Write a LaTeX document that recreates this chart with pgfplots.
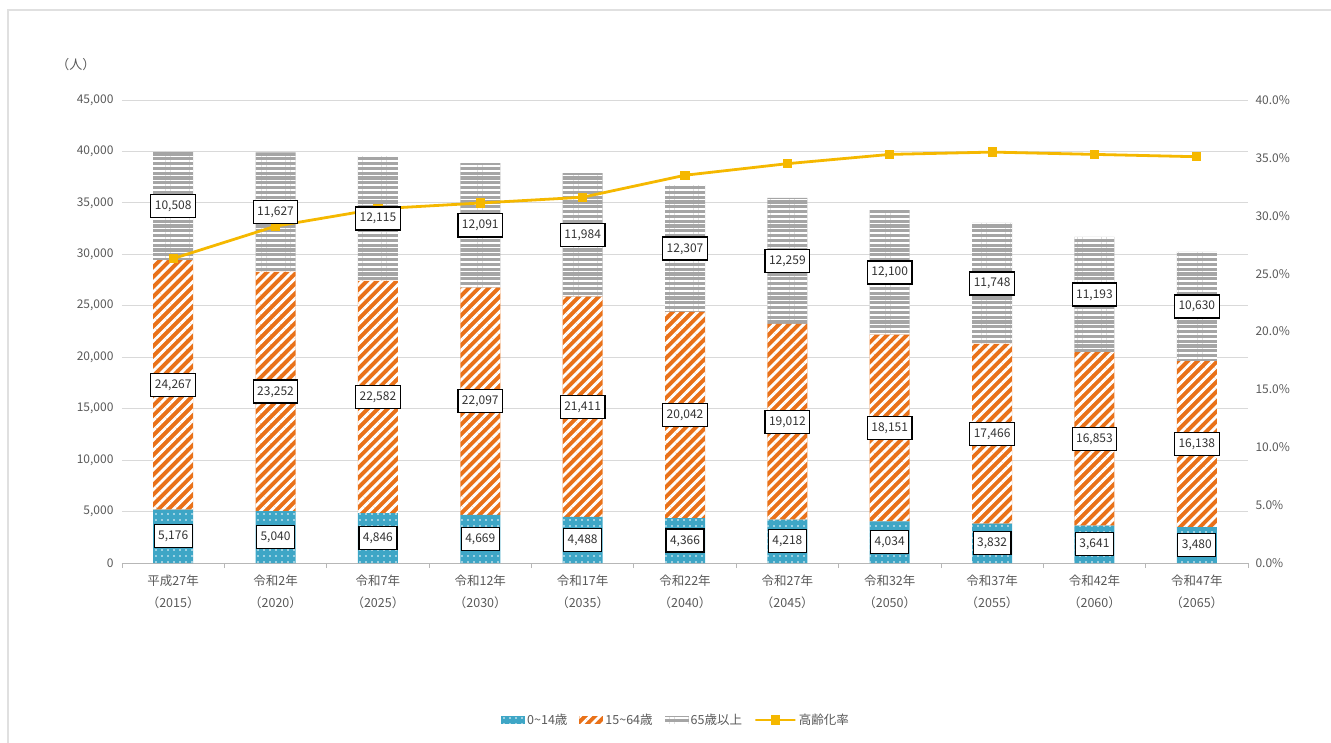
\documentclass[border=0pt]{standalone}
\usepackage{fontspec}
\setmainfont{Noto Sans CJK JP}
\usepackage{pgfplots}
\usepackage{pgfplotstable}
\pgfplotsset{compat=1.18}
\usetikzlibrary{patterns.meta}
\definecolor{cblue}{RGB}{62,166,198}
\definecolor{corange}{RGB}{233,113,25}
\definecolor{cgray}{RGB}{165,165,165}
\definecolor{cgold}{RGB}{245,184,0}
\definecolor{ctext}{RGB}{89,89,89}
\definecolor{cgrid}{RGB}{217,217,217}

\pgfplotstableread{
x young work old rate
0 5176 24267 10508 26.3
1 5040 23252 11627 29.1
2 4846 22582 12115 30.6
3 4669 22097 12091 31.1
4 4488 21411 11984 31.6
5 4366 20042 12307 33.5
6 4218 19012 12259 34.5
7 4034 18151 12100 35.3
8 3832 17466 11748 35.5
9 3641 16853 11193 35.3
10 3480 16138 10630 35.1
}\datatable

\pgfplotstableread{
x pos val
0 2588 5176
1 2520 5040
2 2423 4846
3 2335 4669
4 2244 4488
5 2183 4366
6 2109 4218
7 2017 4034
8 1916 3832
9 1821 3641
10 1740 3480
0 17310 24267
1 16666 23252
2 16137 22582
3 15718 22097
4 15194 21411
5 14387 20042
6 13724 19012
7 13110 18151
8 12565 17466
9 12068 16853
10 11549 16138
0 34697 10508
1 34106 11627
2 33486 12115
3 32812 12091
4 31891 11984
5 30562 12307
6 29360 12259
7 28235 12100
8 27172 11748
9 26091 11193
10 24933 10630
}\labeltable

\pgfplotsset{
  base/.style={scale only axis, width=1126pt, height=463pt,
    xmin=-0.5, xmax=10.5, at={(0,0)}, anchor=south west},
  barleg/.style={legend image code/.code={\draw[##1,draw=none] (0pt,-4pt) rectangle (24pt,4pt);}},
  lineleg/.style={legend image code/.code={\draw[##1,mark=none] (0pt,0pt) -- (32pt,0pt); \path[##1] plot coordinates {(16pt,0pt)};}},
}

\begin{document}
\begin{tikzpicture}
\useasboundingbox (-122pt,-179pt) rectangle (1209pt,563pt);
\draw[black!12, line width=1.5pt] (-114pt,-181pt) -- (-114pt,553pt) -- (1212pt,553pt);

\begin{axis}[base, ybar stacked, bar width=40pt, clip=false,
  ymin=0, ymax=45000, ytick={0,5000,...,45000}, scaled y ticks=false,
  ymajorgrids, grid style={cgrid, line width=0.8pt},
  axis x line*=bottom, axis y line*=left,
  y axis line style={draw=none}, x axis line style={draw=cgray!80, line width=0.8pt},
  ytick style={draw=none},
  xtick={-0.5,0.5,...,10.5}, x tick label as interval,
  xtick style={draw=cgray!80, line width=0.8pt}, tick align=outside, major tick length=5pt,
  xticklabels={{平成27年\\（2015）},{令和2年\\（2020）},{令和7年\\（2025）},{令和12年\\（2030）},{令和17年\\（2035）},{令和22年\\（2040）},{令和27年\\（2045）},{令和32年\\（2050）},{令和37年\\（2055）},{令和42年\\（2060）},{令和47年\\（2065）}},
  x tick label style={font=\fontsize{12.5}{22}\selectfont, align=center, text=ctext, yshift=-3pt},
  yticklabel style={font=\fontsize{12}{14}\selectfont, text=ctext},
  yticklabel={\pgfmathprintnumber[fixed,precision=0,1000 sep={,},assume math mode=true]{\tick}},
  legend style={draw=none, at={(0.492,-0.339)}, anchor=center, legend columns=-1,
    font=\fontsize{12.5}{14}\selectfont, text=ctext,
    /tikz/every even column/.append style={column sep=10pt}},
]
\addplot[barleg, fill=cblue, draw=none, postaction={pattern={Dots[distance=6pt,radius=0.9pt]},pattern color=white}] table[x=x,y=young]{\datatable};
\addlegendentry{0{\textasciitilde}14歳}
\addplot[barleg, fill=corange, draw=none, postaction={pattern={Lines[angle=45,distance=7pt,line width=2.8pt]},pattern color=white}] table[x=x,y=work]{\datatable};
\addlegendentry{15{\textasciitilde}64歳}
\addplot[barleg, fill=cgray, draw=none, postaction={pattern={Lines[angle=0,distance=4.8pt,line width=1.6pt]},pattern color=white}] table[x=x,y=old]{\datatable};
\addlegendentry{65歳以上}
\addlegendimage{lineleg, cgold, line width=2.8pt, mark=square*, mark size=3.2pt}
\addlegendentry{高齢化率}
\node[font=\fontsize{13}{14}\selectfont, text=ctext] at (rel axis cs:-0.041,1.076) {（人）};
\end{axis}

\begin{axis}[base, ymin=0, ymax=40, ytick={0,5,...,40},
  axis y line*=right, axis x line=none,
  y axis line style={draw=none}, ytick style={draw=none},
  yticklabel={\pgfmathprintnumber[fixed,fixed zerofill,precision=1,assume math mode=true]{\tick}\%},
  yticklabel style={font=\fontsize{12}{14}\selectfont, text=ctext, xshift=4pt},
]
\addplot[cgold, line width=2.8pt, mark=square*, mark size=3.2pt, mark options={solid}] table[x=x,y=rate]{\datatable};
\end{axis}

\begin{axis}[base, ymin=0, ymax=45000, hide axis, clip=false]
\addplot[only marks, mark=none, point meta=explicit, nodes near coords={\pgfmathprintnumber[fixed,precision=0,1000 sep={,},assume math mode=true]{\pgfplotspointmeta}},
  nodes near coords align={center},
  every node near coord/.append style={anchor=center, draw=black, line width=1.2pt, fill=white,
    text=black!80, font=\fontsize{12}{14}\selectfont, inner xsep=4pt, inner ysep=6pt,
    text height=9pt, text depth=2pt}]
  table[x=x,y=pos,meta=val]{\labeltable};
\end{axis}
\end{tikzpicture}
\end{document}
